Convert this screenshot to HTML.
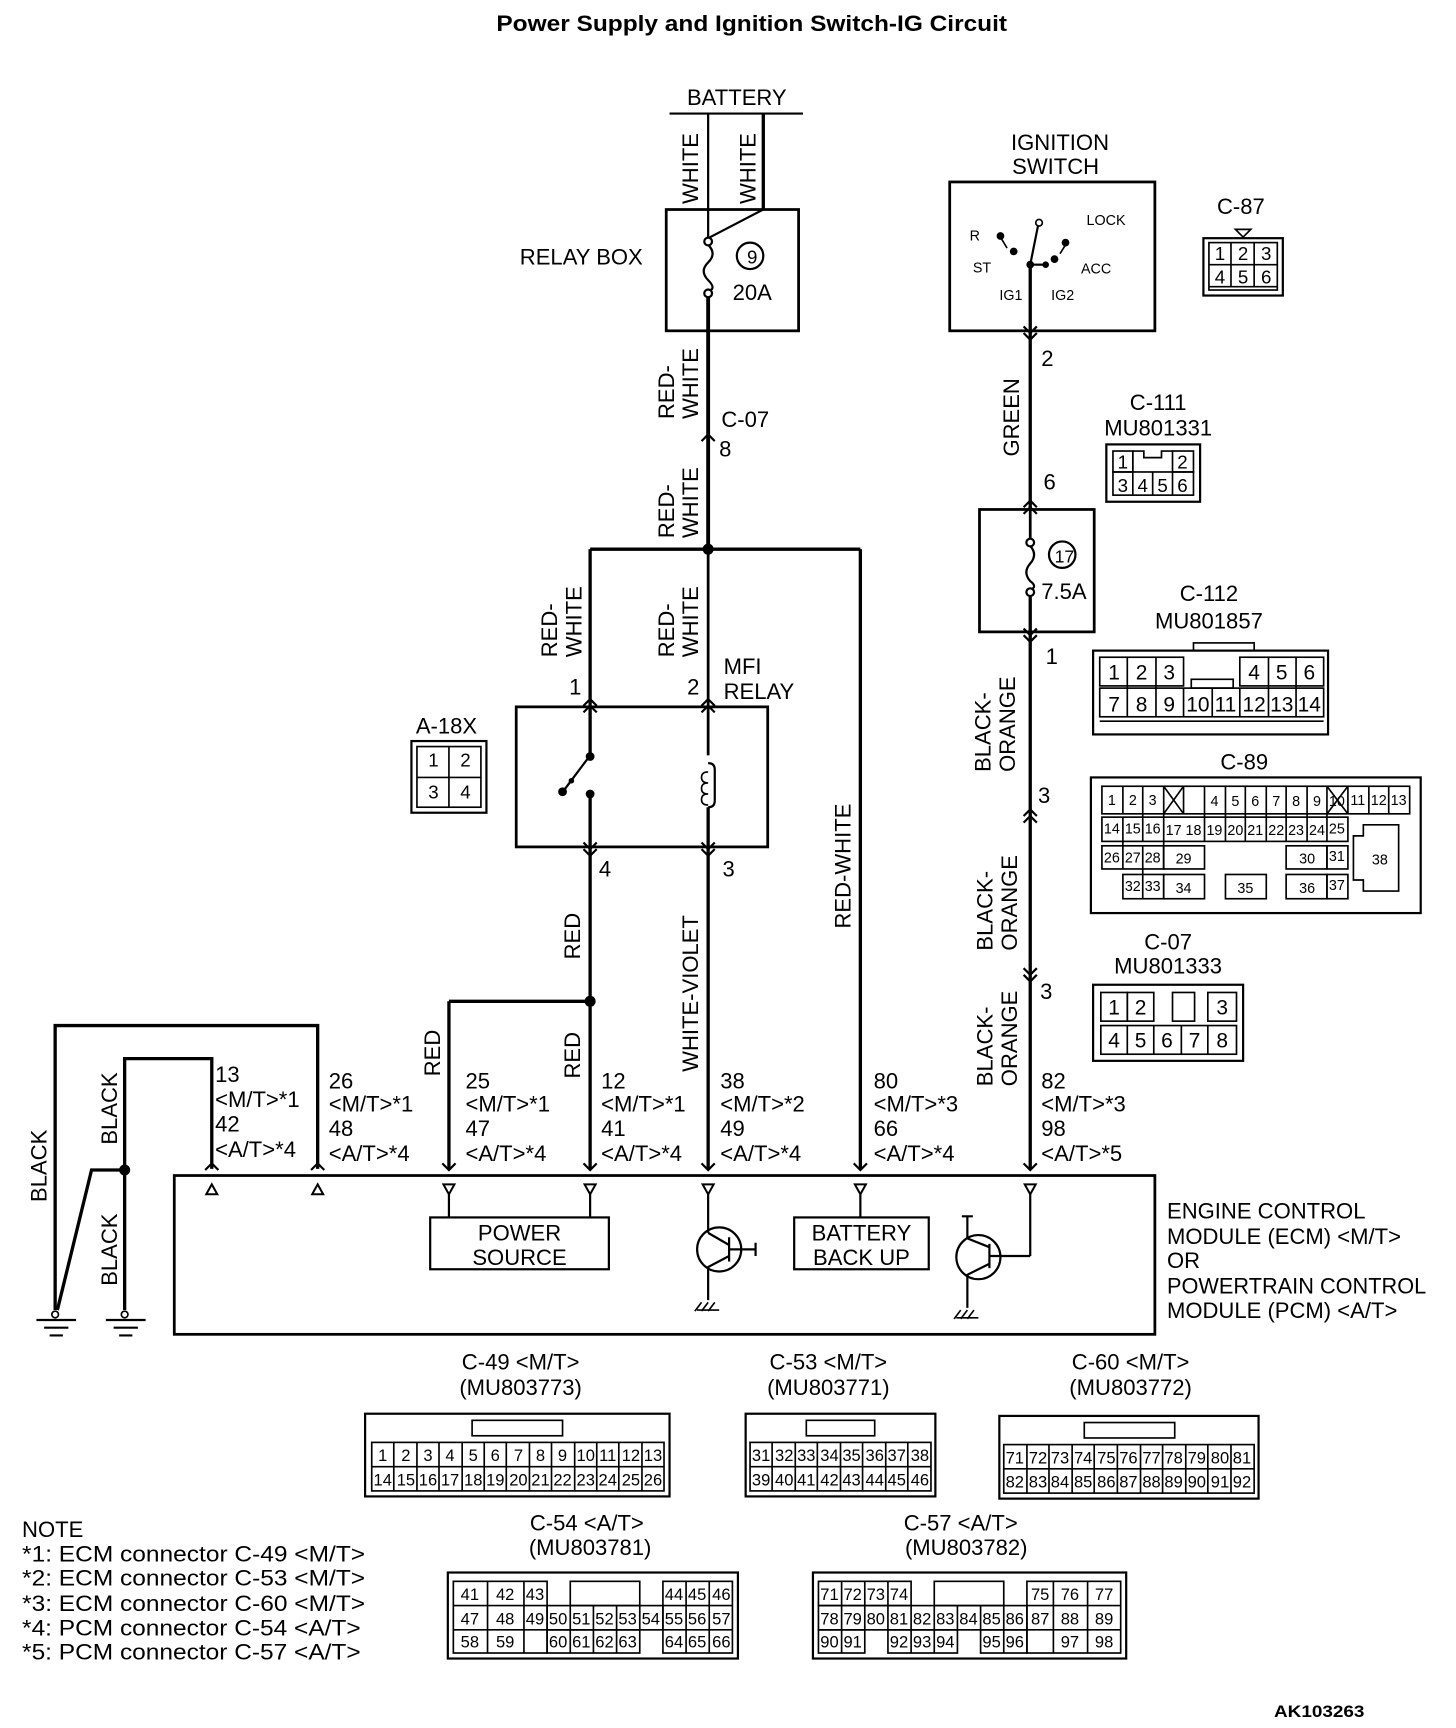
<!DOCTYPE html>
<html><head><meta charset="utf-8"><style>
html,body{margin:0;padding:0;background:#fff}
svg{display:block}
text{font-family:"Liberation Sans",sans-serif;fill:#000}
.l{font-size:20px}
</style></head><body>
<svg width="1456" height="1728" viewBox="0 0 1320 1567" preserveAspectRatio="none" xmlns="http://www.w3.org/2000/svg">
<rect width="1320" height="1567" fill="#fff"/>
<text x="450" y="28" font-weight="bold" font-size="20" textLength="463" lengthAdjust="spacingAndGlyphs">Power Supply and Ignition Switch-IG Circuit</text>

<g fill="none" stroke="#000">
<line x1="607" y1="103" x2="728" y2="103" stroke-width="2"/>
<line x1="642" y1="103" x2="642" y2="215" stroke-width="2"/>
<line x1="692" y1="103" x2="692" y2="190" stroke-width="3"/>
<line x1="692" y1="190" x2="642" y2="216" stroke-width="2"/>
<rect x="604" y="190" width="120" height="110" stroke-width="2.5"/>
<path d="M642 222 q8 8 0 16 q-8 8 0 16 q8 8 0 10" stroke-width="2"/>
<circle cx="642" cy="219" r="3.5" fill="#fff" stroke-width="2"/>
<circle cx="642" cy="266" r="3.5" fill="#fff" stroke-width="2"/>
<circle cx="680" cy="232" r="12" stroke-width="2"/>
<line x1="642" y1="270" x2="642" y2="498" stroke-width="3.5"/>
<path d="M636 400 l6 -6 l6 6" stroke-width="2"/>
<line x1="535" y1="498" x2="780" y2="498" stroke-width="3"/>
<line x1="535" y1="498" x2="535" y2="685" stroke-width="3"/>
<line x1="642" y1="498" x2="642" y2="685" stroke-width="2.5"/>
<line x1="780" y1="498" x2="780" y2="1060" stroke-width="3"/>
<rect x="468" y="641" width="228" height="127" stroke-width="2.5"/>
<path d="M529 640 l6 -6 l6 6 M529 646 l6 -6 l6 6" stroke-width="2"/>
<path d="M636 640 l6 -6 l6 6 M636 646 l6 -6 l6 6" stroke-width="2"/>
<line x1="535" y1="685" x2="511" y2="717" stroke-width="2"/>
<line x1="535" y1="720" x2="535" y2="1060" stroke-width="3"/>
<path d="M529 764 l6 6 l6 -6 M529 770 l6 6 l6 -6" stroke-width="2"/>
<path d="M642 692 q6 0 6 6 v28 q0 6 -6 6" stroke-width="2"/>
<path d="M642 700 q-6 0 -6 5 q0 5 6 5 q-6 0 -6 5 q0 5 6 5 q-6 0 -6 5 q0 5 6 5" stroke-width="1.5"/>
<line x1="642" y1="732" x2="642" y2="1060" stroke-width="3"/>
<path d="M636 764 l6 6 l6 -6 M636 770 l6 6 l6 -6" stroke-width="2"/>
<line x1="407" y1="908" x2="535" y2="908" stroke-width="3"/>
<line x1="407" y1="908" x2="407" y2="1060" stroke-width="3"/>
<rect x="861" y="165" width="186" height="135" stroke-width="2.5"/>
<line x1="934" y1="240" x2="934" y2="462" stroke-width="3"/>
<line x1="934" y1="240" x2="941" y2="205" stroke-width="2"/>
<circle cx="942" cy="202" r="3" fill="#fff" stroke-width="1.5"/>
<line x1="934" y1="240" x2="948" y2="240" stroke-width="2"/>
<path d="M907 215 l6 10 M961 230 l5 -8" stroke-width="1.5"/>
<path d="M928 296 l6 6 l6 -6 M928 302 l6 6 l6 -6" stroke-width="2"/>
<path d="M928 460 l6 -6 l6 6 M928 466 l6 -6 l6 6" stroke-width="2"/>
<rect x="888" y="462" width="104" height="111" stroke-width="2.5"/>
<line x1="934" y1="462" x2="934" y2="489" stroke-width="2.5"/>
<path d="M934 495 q7 8 0 16 q-7 8 0 16 q7 5 0 8" stroke-width="2"/>
<circle cx="934" cy="492" r="3.5" fill="#fff" stroke-width="2"/>
<circle cx="934" cy="537" r="3.5" fill="#fff" stroke-width="2"/>
<line x1="934" y1="541" x2="934" y2="1060" stroke-width="3"/>
<circle cx="963" cy="503" r="12" stroke-width="2"/>
<path d="M928 570 l6 6 l6 -6 M928 576 l6 6 l6 -6" stroke-width="2"/>
<path d="M928 740 l6 -6 l6 6 M928 746 l6 -6 l6 6" stroke-width="2"/>
<path d="M928 878 l6 6 l6 -6 M928 884 l6 6 l6 -6" stroke-width="2"/>
<polyline points="50,1188 50,930 288,930 288,1060" stroke-width="3"/>
<polyline points="113,1188 113,960 192,960 192,1060" stroke-width="3"/>
<polyline points="113,1061 83,1061 52,1188" stroke-width="3"/>
<path d="M33 1197 h36 M40 1204 h22 M45 1211 h12" stroke-width="2"/>
<path d="M96 1197 h36 M103 1204 h22 M108 1211 h12" stroke-width="2"/>
<circle cx="50" cy="1192" r="3" fill="#fff" stroke-width="1.5"/>
<circle cx="113" cy="1192" r="3" fill="#fff" stroke-width="1.5"/>
<rect x="158" y="1066" width="889" height="144" stroke-width="2.5"/>
<path d="M186 1061 l6 -6 l6 6 M282 1061 l6 -6 l6 6 M401 1055 l6 6 l6 -6 M529 1055 l6 6 l6 -6 M636 1055 l6 6 l6 -6 M774 1055 l6 6 l6 -6 M928 1055 l6 6 l6 -6" stroke-width="2"/>
<path d="M187 1083 l5 -9 l5 9 z M283 1083 l5 -9 l5 9 z" stroke-width="1.8"/>
<path d="M402 1074 l5 9 l5 -9 z M530 1074 l5 9 l5 -9 z M637 1074 l5 9 l5 -9 z M775 1074 l5 9 l5 -9 z M929 1074 l5 9 l5 -9 z" stroke-width="1.8"/>
<line x1="407" y1="1083" x2="407" y2="1104" stroke-width="2"/>
<line x1="535" y1="1083" x2="535" y2="1104" stroke-width="2"/>
<line x1="780" y1="1083" x2="780" y2="1104" stroke-width="2"/>
<rect x="390" y="1104" width="162" height="47" stroke-width="2"/>
<rect x="720" y="1104" width="122" height="47" stroke-width="2"/>
<line x1="642" y1="1083" x2="642" y2="1118" stroke-width="2"/>
<circle cx="652" cy="1133" r="20" stroke-width="2"/>
<path d="M642 1118 l19 11 M661 1122 v22 M661 1133 h24 M685 1127 v12 M661 1139 l-19 10 v30" stroke-width="2"/>
<path d="M632 1188 h20 M636 1181 l-6 8 M642 1181 l-6 8 M648 1181 l-6 8" stroke-width="1.5"/>
<line x1="934" y1="1083" x2="934" y2="1139" stroke-width="2"/>
<line x1="897" y1="1139" x2="934" y2="1139" stroke-width="2"/>
<circle cx="887" cy="1140" r="20" stroke-width="2"/>
<path d="M872 1103 h10 M877 1103 v20 l20 8 M897 1128 v22 M897 1146 l-20 10 v30" stroke-width="2"/>
<path d="M867 1195 h20 M871 1188 l-6 8 M877 1188 l-6 8 M883 1188 l-6 8" stroke-width="1.5"/>
</g>
<g fill="#000">
<circle cx="642" cy="498" r="5"/><circle cx="535" cy="908" r="5"/><circle cx="113" cy="1061" r="5"/>
<circle cx="535" cy="686" r="4"/><circle cx="535" cy="720" r="4"/><circle cx="510" cy="718" r="4"/><circle cx="518" cy="708" r="2.5"/>
<circle cx="934" cy="240" r="3.5"/><circle cx="948" cy="240" r="3"/><circle cx="907" cy="214" r="3.5"/><circle cx="919" cy="228" r="3.5"/><circle cx="966" cy="220" r="3.5"/><circle cx="956" cy="235" r="3.5"/>
</g>

<g class="l">
<text x="668" y="95" text-anchor="middle">BATTERY</text>
<text x="527" y="240" text-anchor="middle">RELAY BOX</text>
<text x="682" y="239" text-anchor="middle" font-size="17">9</text>
<text x="682" y="272" text-anchor="middle">20A</text>
<text transform="translate(633,185) rotate(-90)">WHITE</text>
<text transform="translate(685,185) rotate(-90)">WHITE</text>
<text transform="translate(611,380) rotate(-90)">RED-</text>
<text transform="translate(633,380) rotate(-90)">WHITE</text>
<text x="654" y="387">C-07</text><text x="652" y="414">8</text>
<text transform="translate(611,488) rotate(-90)">RED-</text>
<text transform="translate(633,488) rotate(-90)">WHITE</text>
<text transform="translate(505,596) rotate(-90)">RED-</text>
<text transform="translate(527,596) rotate(-90)">WHITE</text>
<text transform="translate(611,596) rotate(-90)">RED-</text>
<text transform="translate(633,596) rotate(-90)">WHITE</text>
<text x="516" y="630">1</text><text x="623" y="630">2</text>
<text x="656" y="611">MFI</text><text x="656" y="634">RELAY</text>
<text x="543" y="795">4</text><text x="655" y="795">3</text>
<text x="377" y="665">A-18X</text>
<text transform="translate(526,870) rotate(-90)">RED</text>
<text transform="translate(633,972) rotate(-90)">WHITE-VIOLET</text>
<text transform="translate(771,842) rotate(-90)">RED-WHITE</text>
<text transform="translate(399,976) rotate(-90)">RED</text>
<text transform="translate(526,978) rotate(-90)">RED</text>
<text transform="translate(42,1090) rotate(-90)">BLACK</text>
<text transform="translate(106,1038) rotate(-90)">BLACK</text>
<text transform="translate(106,1166) rotate(-90)">BLACK</text>
<text x="195" y="981">13</text><text x="195" y="1004">&lt;M/T&gt;*1</text><text x="195" y="1026">42</text><text x="195" y="1049">&lt;A/T&gt;*4</text>
<text x="298" y="987">26</text><text x="298" y="1008">&lt;M/T&gt;*1</text><text x="298" y="1030">48</text><text x="298" y="1053">&lt;A/T&gt;*4</text>
<text x="422" y="987">25</text><text x="422" y="1008">&lt;M/T&gt;*1</text><text x="422" y="1030">47</text><text x="422" y="1053">&lt;A/T&gt;*4</text>
<text x="545" y="987">12</text><text x="545" y="1008">&lt;M/T&gt;*1</text><text x="545" y="1030">41</text><text x="545" y="1053">&lt;A/T&gt;*4</text>
<text x="653" y="987">38</text><text x="653" y="1008">&lt;M/T&gt;*2</text><text x="653" y="1030">49</text><text x="653" y="1053">&lt;A/T&gt;*4</text>
<text x="792" y="987">80</text><text x="792" y="1008">&lt;M/T&gt;*3</text><text x="792" y="1030">66</text><text x="792" y="1053">&lt;A/T&gt;*4</text>
<text x="944" y="987">82</text><text x="944" y="1008">&lt;M/T&gt;*3</text><text x="944" y="1030">98</text><text x="944" y="1053">&lt;A/T&gt;*5</text>
<text x="471" y="1125" text-anchor="middle">POWER</text><text x="471" y="1147" text-anchor="middle">SOURCE</text>
<text x="781" y="1125" text-anchor="middle">BATTERY</text><text x="781" y="1147" text-anchor="middle">BACK UP</text>
<text x="1058" y="1105">ENGINE CONTROL</text>
<text x="1058" y="1128">MODULE (ECM) &lt;M/T&gt;</text>
<text x="1058" y="1150">OR</text>
<text x="1058" y="1173" textLength="235" lengthAdjust="spacingAndGlyphs">POWERTRAIN CONTROL</text>
<text x="1058" y="1195">MODULE (PCM) &lt;A/T&gt;</text>
<text x="961" y="136" text-anchor="middle">IGNITION</text>
<text x="957" y="158" text-anchor="middle">SWITCH</text>
<text x="944" y="332">2</text>
<text transform="translate(924,414) rotate(-90)">GREEN</text>
<text x="946" y="444">6</text>
<text x="965" y="510" text-anchor="middle" font-size="16">17</text>
<text x="944" y="543">7.5A</text>
<text x="948" y="602">1</text>
<text transform="translate(898,700) rotate(-90)">BLACK-</text>
<text transform="translate(920,700) rotate(-90)">ORANGE</text>
<text x="941" y="728">3</text>
<text transform="translate(900,862) rotate(-90)">BLACK-</text>
<text transform="translate(922,862) rotate(-90)">ORANGE</text>
<text x="943" y="906">3</text>
<text transform="translate(900,985) rotate(-90)">BLACK-</text>
<text transform="translate(922,985) rotate(-90)">ORANGE</text>
<text x="1125" y="194" text-anchor="middle">C-87</text>
<text x="1050" y="372" text-anchor="middle">C-111</text>
<text x="1050" y="395" text-anchor="middle">MU801331</text>
<text x="1096" y="545" text-anchor="middle">C-112</text>
<text x="1096" y="570" text-anchor="middle">MU801857</text>
<text x="1128" y="698" text-anchor="middle">C-89</text>
<text x="1059" y="861" text-anchor="middle">C-07</text>
<text x="1059" y="883" text-anchor="middle">MU801333</text>
<text x="472" y="1242" text-anchor="middle">C-49 &lt;M/T&gt;</text><text x="472" y="1265" text-anchor="middle">(MU803773)</text>
<text x="751" y="1242" text-anchor="middle">C-53 &lt;M/T&gt;</text><text x="751" y="1265" text-anchor="middle">(MU803771)</text>
<text x="1025" y="1242" text-anchor="middle">C-60 &lt;M/T&gt;</text><text x="1025" y="1265" text-anchor="middle">(MU803772)</text>
<text x="532" y="1388" text-anchor="middle">C-54 &lt;A/T&gt;</text><text x="535" y="1410" text-anchor="middle">(MU803781)</text>
<text x="871" y="1388" text-anchor="middle">C-57 &lt;A/T&gt;</text><text x="876" y="1410" text-anchor="middle">(MU803782)</text>
<text x="20" y="1394">NOTE</text>
<text x="20" y="1416" textLength="311" lengthAdjust="spacingAndGlyphs">*1: ECM connector C-49 &lt;M/T&gt;</text>
<text x="20" y="1438" textLength="311" lengthAdjust="spacingAndGlyphs">*2: ECM connector C-53 &lt;M/T&gt;</text>
<text x="20" y="1461" textLength="311" lengthAdjust="spacingAndGlyphs">*3: ECM connector C-60 &lt;M/T&gt;</text>
<text x="20" y="1483" textLength="307" lengthAdjust="spacingAndGlyphs">*4: PCM connector C-54 &lt;A/T&gt;</text>
<text x="20" y="1505" textLength="307" lengthAdjust="spacingAndGlyphs">*5: PCM connector C-57 &lt;A/T&gt;</text>
</g>
<text x="1155" y="1557" font-weight="bold" font-size="15" textLength="82" lengthAdjust="spacingAndGlyphs">AK103263</text>
<g font-size="13">
<text x="879" y="218">R</text><text x="882" y="247">ST</text><text x="985" y="204">LOCK</text><text x="980" y="248">ACC</text>
<text x="906" y="272">IG1</text><text x="953" y="272">IG2</text>
</g>

<g fill="none" stroke="#000" stroke-width="1.5">
<rect x="373" y="672" width="68" height="65" stroke-width="2"/><rect x="378" y="677" width="58" height="55"/>
<line x1="407" y1="677" x2="407" y2="732"/><line x1="378" y1="705" x2="436" y2="705"/>
<rect x="1091" y="216" width="72" height="52" stroke-width="2"/><rect x="1096" y="220" width="62" height="43"/>
<path d="M1120 208 h14 l-7 7 z"/>
<line x1="1096" y1="240" x2="1158" y2="240"/><line x1="1116" y1="220" x2="1116" y2="260"/><line x1="1137" y1="220" x2="1137" y2="260"/><line x1="1096" y1="260" x2="1158" y2="260"/>
<rect x="1003" y="403" width="85" height="52" stroke-width="2"/>
<rect x="1009" y="409" width="18" height="19"/><rect x="1063" y="409" width="19" height="19"/>
<path d="M1027 428 v-19 h10 v6 h16 v-6 h10"/>
<rect x="1009" y="428" width="73" height="21"/>
<line x1="1027" y1="428" x2="1027" y2="449"/><line x1="1045" y1="428" x2="1045" y2="449"/><line x1="1063" y1="428" x2="1063" y2="449"/>
<rect x="991" y="590" width="213" height="76" stroke-width="2"/>
<rect x="1082" y="583" width="55" height="7"/>
<rect x="997" y="596" width="76" height="26"/><rect x="1124" y="596" width="76" height="26"/>
<line x1="1022" y1="596" x2="1022" y2="650"/><line x1="1048" y1="596" x2="1048" y2="650"/><line x1="1150" y1="596" x2="1150" y2="650"/><line x1="1175" y1="596" x2="1175" y2="650"/>
<rect x="997" y="624" width="203" height="26"/>
<line x1="1073" y1="624" x2="1073" y2="650"/><line x1="1099" y1="624" x2="1099" y2="650"/><line x1="1124" y1="624" x2="1124" y2="650"/>
<rect x="1080" y="616" width="38" height="8"/>
<path d="M997 654 h203"/>
<rect x="989" y="705" width="299" height="123" stroke-width="2"/>
<rect x="999" y="713" width="279" height="25"/>
<rect x="999" y="741" width="223" height="22"/>
<rect x="999" y="767" width="56" height="21"/><rect x="1055" y="767" width="37" height="21"/><rect x="1166" y="767" width="37" height="21"/><rect x="1203" y="767" width="19" height="21"/>
<rect x="1018" y="793" width="37" height="22"/><rect x="1055" y="793" width="37" height="22"/><rect x="1111" y="793" width="37" height="22"/><rect x="1166" y="793" width="37" height="22"/><rect x="1203" y="793" width="19" height="22"/>
<path d="M1018 713 v25 M1036 713 v50 M1055 713 v75 M1073 713 v25 M1092 713 v50 M1111 713 v50 M1129 713 v50 M1148 713 v50 M1166 713 v50 M1185 713 v50 M1203 713 v50 M1222 713 v25 M1241 713 v25 M1259 713 v25 M1018 741 v47 M1036 767 v48"/>
<path d="M1055 713 l18 25 M1073 713 l-18 25 M1203 713 l19 25 M1222 713 l-19 25"/>
<path d="M1236 748 h32 v60 h-32 v-10 h-9 v-40 h9 z"/>
<rect x="991" y="893" width="136" height="69" stroke-width="2"/>
<rect x="998" y="900" width="24" height="26"/><rect x="1022" y="900" width="24" height="26"/><rect x="1063" y="900" width="20" height="26"/><rect x="1095" y="900" width="26" height="26"/>
<rect x="998" y="930" width="123" height="26"/>
<line x1="1022" y1="930" x2="1022" y2="956"/><line x1="1046" y1="930" x2="1046" y2="956"/><line x1="1071" y1="930" x2="1071" y2="956"/><line x1="1095" y1="930" x2="1095" y2="956"/>
<rect x="331" y="1282" width="276" height="75" stroke-width="2"/>
<rect x="428" y="1288" width="82" height="14"/>
<rect x="337" y="1308" width="265" height="44"/><line x1="337" y1="1330" x2="602" y2="1330"/>
<path d="M357 1308 v44 M378 1308 v44 M398 1308 v44 M419 1308 v44 M439 1308 v44 M459 1308 v44 M480 1308 v44 M500 1308 v44 M521 1308 v44 M541 1308 v44 M561 1308 v44 M582 1308 v44"/>
<rect x="676" y="1282" width="172" height="75" stroke-width="2"/>
<rect x="731" y="1288" width="62" height="14"/>
<rect x="680" y="1308" width="164" height="44"/><line x1="680" y1="1330" x2="844" y2="1330"/>
<path d="M700 1308 v44 M721 1308 v44 M741 1308 v44 M762 1308 v44 M782 1308 v44 M803 1308 v44 M823 1308 v44"/>
<rect x="906" y="1284" width="235" height="75" stroke-width="2"/>
<rect x="983" y="1290" width="82" height="14"/>
<rect x="910" y="1310" width="227" height="44"/><line x1="910" y1="1332" x2="1137" y2="1332"/>
<path d="M931 1310 v44 M951 1310 v44 M972 1310 v44 M992 1310 v44 M1013 1310 v44 M1034 1310 v44 M1054 1310 v44 M1075 1310 v44 M1095 1310 v44 M1116 1310 v44"/>
<rect x="406" y="1426" width="263" height="78" stroke-width="2"/>
<rect x="411" y="1434" width="85" height="65"/><rect x="517" y="1434" width="63" height="22"/><rect x="601" y="1434" width="63" height="65"/>
<rect x="496" y="1456" width="105" height="22"/><rect x="496" y="1478" width="84" height="21"/>
<path d="M411 1456 h85 M411 1478 h85 M601 1456 h63 M601 1478 h63 M442 1434 v65 M475 1434 v65 M517 1456 v43 M538 1456 v43 M559 1456 v43 M580 1456 v22 M622 1434 v65 M643 1434 v65"/>
<rect x="737" y="1426" width="284" height="78" stroke-width="2"/>
<rect x="742" y="1434" width="84" height="22"/><rect x="847" y="1434" width="63" height="22"/><rect x="931" y="1434" width="85" height="65"/>
<rect x="742" y="1456" width="189" height="22"/>
<rect x="742" y="1478" width="42" height="21"/><rect x="805" y="1478" width="63" height="21"/><rect x="889" y="1478" width="42" height="21"/>
<path d="M763 1434 v65 M784 1434 v44 M805 1434 v44 M826 1456 v43 M847 1456 v43 M868 1456 v22 M889 1456 v22 M910 1456 v43 M955 1434 v65 M986 1434 v65 M931 1456 h85 M931 1478 h85"/>
</g>

<g font-size="17" text-anchor="middle">
<text x="393" y="695">1</text><text x="422" y="695">2</text><text x="393" y="724">3</text><text x="422" y="724">4</text>
<text x="1106" y="236">1</text><text x="1127" y="236">2</text><text x="1148" y="236">3</text>
<text x="1106" y="257">4</text><text x="1127" y="257">5</text><text x="1148" y="257">6</text>
<text x="1018" y="425">1</text><text x="1072" y="425">2</text>
<text x="1018" y="446">3</text><text x="1036" y="446">4</text><text x="1054" y="446">5</text><text x="1072" y="446">6</text>
<g font-size="19">
<text x="1010" y="616">1</text><text x="1035" y="616">2</text><text x="1060" y="616">3</text><text x="1137" y="616">4</text><text x="1162" y="616">5</text><text x="1187" y="616">6</text>
<text x="1010" y="645">7</text><text x="1035" y="645">8</text><text x="1060" y="645">9</text><text x="1086" y="645">10</text><text x="1111" y="645">11</text><text x="1137" y="645">12</text><text x="1162" y="645">13</text><text x="1187" y="645">14</text>
<text x="1010" y="920">1</text><text x="1034" y="920">2</text><text x="1108" y="920">3</text>
<text x="1010" y="950">4</text><text x="1034" y="950">5</text><text x="1058" y="950">6</text><text x="1083" y="950">7</text><text x="1108" y="950">8</text>
</g>
</g>
<g font-size="13" text-anchor="middle">
<text x="1008" y="730">1</text><text x="1027" y="730">2</text><text x="1045" y="730">3</text>
<text x="1101" y="731">4</text><text x="1120" y="731">5</text><text x="1138" y="731">6</text><text x="1157" y="731">7</text><text x="1175" y="731">8</text><text x="1194" y="731">9</text><text x="1212" y="731">10</text>
<text x="1231" y="730">11</text><text x="1250" y="730">12</text><text x="1268" y="730">13</text>
<text x="1008" y="756">14</text><text x="1027" y="756">15</text><text x="1045" y="756">16</text><text x="1064" y="757">17</text><text x="1082" y="757">18</text><text x="1101" y="757">19</text><text x="1120" y="757">20</text><text x="1138" y="757">21</text><text x="1157" y="757">22</text><text x="1175" y="757">23</text><text x="1194" y="757">24</text><text x="1212" y="756">25</text>
<text x="1008" y="782">26</text><text x="1027" y="782">27</text><text x="1045" y="782">28</text><text x="1073" y="783">29</text><text x="1185" y="783">30</text><text x="1212" y="781">31</text><text x="1251" y="784">38</text>
<text x="1027" y="808">32</text><text x="1045" y="808">33</text><text x="1073" y="810">34</text><text x="1129" y="810">35</text><text x="1185" y="810">36</text><text x="1212" y="807">37</text>
</g>
<g font-size="15" text-anchor="middle">
<text x="347" y="1325">1</text><text x="368" y="1325">2</text><text x="388" y="1325">3</text><text x="408" y="1325">4</text><text x="429" y="1325">5</text><text x="449" y="1325">6</text><text x="470" y="1325">7</text><text x="490" y="1325">8</text><text x="510" y="1325">9</text><text x="531" y="1325">10</text><text x="551" y="1325">11</text><text x="572" y="1325">12</text><text x="592" y="1325">13</text>
<text x="347" y="1347">14</text><text x="368" y="1347">15</text><text x="388" y="1347">16</text><text x="408" y="1347">17</text><text x="429" y="1347">18</text><text x="449" y="1347">19</text><text x="470" y="1347">20</text><text x="490" y="1347">21</text><text x="510" y="1347">22</text><text x="531" y="1347">23</text><text x="551" y="1347">24</text><text x="572" y="1347">25</text><text x="592" y="1347">26</text>
<text x="690" y="1325">31</text><text x="711" y="1325">32</text><text x="731" y="1325">33</text><text x="752" y="1325">34</text><text x="772" y="1325">35</text><text x="793" y="1325">36</text><text x="813" y="1325">37</text><text x="834" y="1325">38</text>
<text x="690" y="1347">39</text><text x="711" y="1347">40</text><text x="731" y="1347">41</text><text x="752" y="1347">42</text><text x="772" y="1347">43</text><text x="793" y="1347">44</text><text x="813" y="1347">45</text><text x="834" y="1347">46</text>
<text x="920" y="1327">71</text><text x="941" y="1327">72</text><text x="961" y="1327">73</text><text x="982" y="1327">74</text><text x="1003" y="1327">75</text><text x="1023" y="1327">76</text><text x="1044" y="1327">77</text><text x="1064" y="1327">78</text><text x="1085" y="1327">79</text><text x="1106" y="1327">80</text><text x="1126" y="1327">81</text>
<text x="920" y="1349">82</text><text x="941" y="1349">83</text><text x="961" y="1349">84</text><text x="982" y="1349">85</text><text x="1003" y="1349">86</text><text x="1023" y="1349">87</text><text x="1044" y="1349">88</text><text x="1064" y="1349">89</text><text x="1085" y="1349">90</text><text x="1106" y="1349">91</text><text x="1126" y="1349">92</text>
<text x="426" y="1451">41</text><text x="458" y="1451">42</text><text x="485" y="1451">43</text><text x="611" y="1451">44</text><text x="632" y="1451">45</text><text x="654" y="1451">46</text>
<text x="426" y="1473">47</text><text x="458" y="1473">48</text><text x="485" y="1473">49</text><text x="506" y="1473">50</text><text x="527" y="1473">51</text><text x="548" y="1473">52</text><text x="569" y="1473">53</text><text x="590" y="1473">54</text><text x="611" y="1473">55</text><text x="632" y="1473">56</text><text x="654" y="1473">57</text>
<text x="426" y="1494">58</text><text x="458" y="1494">59</text><text x="506" y="1494">60</text><text x="527" y="1494">61</text><text x="548" y="1494">62</text><text x="569" y="1494">63</text><text x="611" y="1494">64</text><text x="632" y="1494">65</text><text x="654" y="1494">66</text>
<text x="752" y="1451">71</text><text x="773" y="1451">72</text><text x="794" y="1451">73</text><text x="815" y="1451">74</text><text x="943" y="1451">75</text><text x="970" y="1451">76</text><text x="1001" y="1451">77</text>
<text x="752" y="1473">78</text><text x="773" y="1473">79</text><text x="794" y="1473">80</text><text x="815" y="1473">81</text><text x="836" y="1473">82</text><text x="857" y="1473">83</text><text x="878" y="1473">84</text><text x="899" y="1473">85</text><text x="920" y="1473">86</text><text x="943" y="1473">87</text><text x="970" y="1473">88</text><text x="1001" y="1473">89</text>
<text x="752" y="1494">90</text><text x="773" y="1494">91</text><text x="815" y="1494">92</text><text x="836" y="1494">93</text><text x="857" y="1494">94</text><text x="899" y="1494">95</text><text x="920" y="1494">96</text><text x="970" y="1494">97</text><text x="1001" y="1494">98</text>
</g>
</svg>
</body></html>
